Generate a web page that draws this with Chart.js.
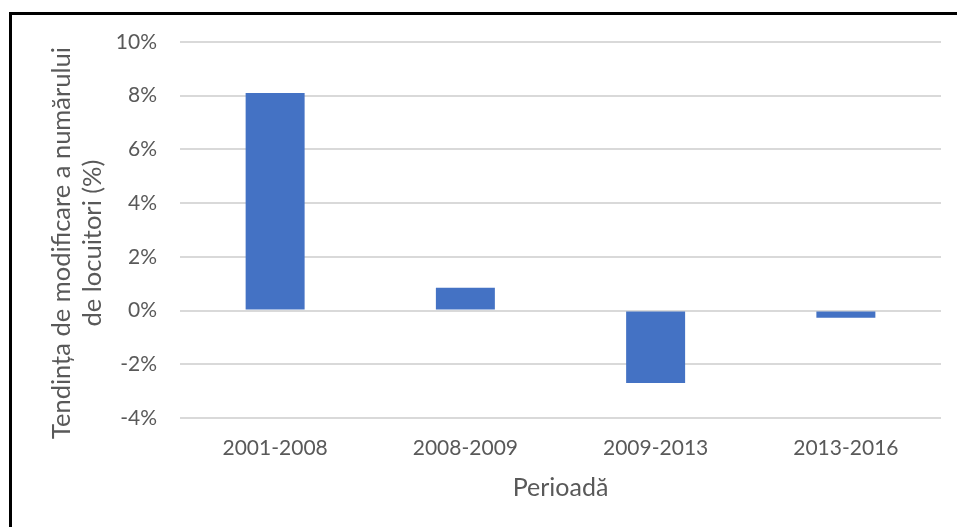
<!DOCTYPE html>
<html>
<head>
<meta charset="utf-8">
<script src="https://cdn.jsdelivr.net/npm/chart.js@4"></script>
<style>
    html, body { margin: 0; padding: 0; background: #fff; }
    #wrap { position: relative; width: 957px; height: 527px; overflow: hidden; }
    #frame { position: absolute; left: 9px; top: 12px; width: 960px; height: 540px; border: 3px solid #000; box-sizing: border-box; }
    canvas { position: absolute; left: 0; top: 0; }
</style>
</head>
<body>
<div id="wrap">
    <div id="frame"></div>
    <canvas id="myChart" width="957" height="527"></canvas>
</div>
<script>
// Periods and population change trend (%)
const periods = ['2001-2008', '2008-2009', '2009-2013', '2013-2016'];
const changes = [8.1, 0.85, -2.7, -0.27];
const yTicks = [-4, -2, 0, 2, 4, 6, 8, 10];

const textColor = '#595959';
const fontFamily = 'Lato, Calibri, Carlito, sans-serif';

const ctx = document.getElementById('myChart').getContext('2d');
new Chart(ctx, {
    type: 'bar',
    data: {
        labels: periods,
        datasets: [{
            data: changes,
            backgroundColor: '#4472C4',
            borderWidth: 0,
            categoryPercentage: 1,
            barPercentage: 0.31
        }]
    },
    options: {
        responsive: false,
        animation: false,
        layout: {
            padding: { left: 40, right: 16, top: 42, bottom: 20 }
        },
        plugins: {
            legend: { display: false },
            tooltip: { enabled: false }
        },
        scales: {
            x: {
                grid: { display: false, drawTicks: false },
                border: { display: false },
                ticks: {
                    color: textColor,
                    font: { family: fontFamily, size: 21 },
                    padding: 18
                },
                title: {
                    display: true,
                    text: 'Perioadă',
                    color: textColor,
                    font: { family: fontFamily, size: 25 },
                    padding: { top: 4, bottom: 4 }
                },
                afterFit: scale => { scale.height = 527 - 418 - 20; }
            },
            y: {
                min: -4,
                max: 10,
                afterBuildTicks: scale => {
                    scale.ticks = yTicks.map(v => ({ value: v }));
                },
                grid: { color: '#D9D9D9', lineWidth: 2, drawTicks: false },
                border: { display: false },
                ticks: {
                    color: textColor,
                    font: { family: fontFamily, size: 21 },
                    padding: 23,
                    callback: v => v + '%'
                },
                title: {
                    display: true,
                    // trailing spaces nudge the centred title a little lower, as in the original
                    text: ['Tendința de modificare a numărului    ', 'de locuitori (%)    '],
                    color: textColor,
                    font: { family: fontFamily, size: 25.5, lineHeight: 31 / 25.5 },
                    padding: { top: 6.5, bottom: 0 }
                },
                afterFit: scale => { scale.width = 180 - 40; }
            }
        }
    }
});
</script>
</body>
</html>
